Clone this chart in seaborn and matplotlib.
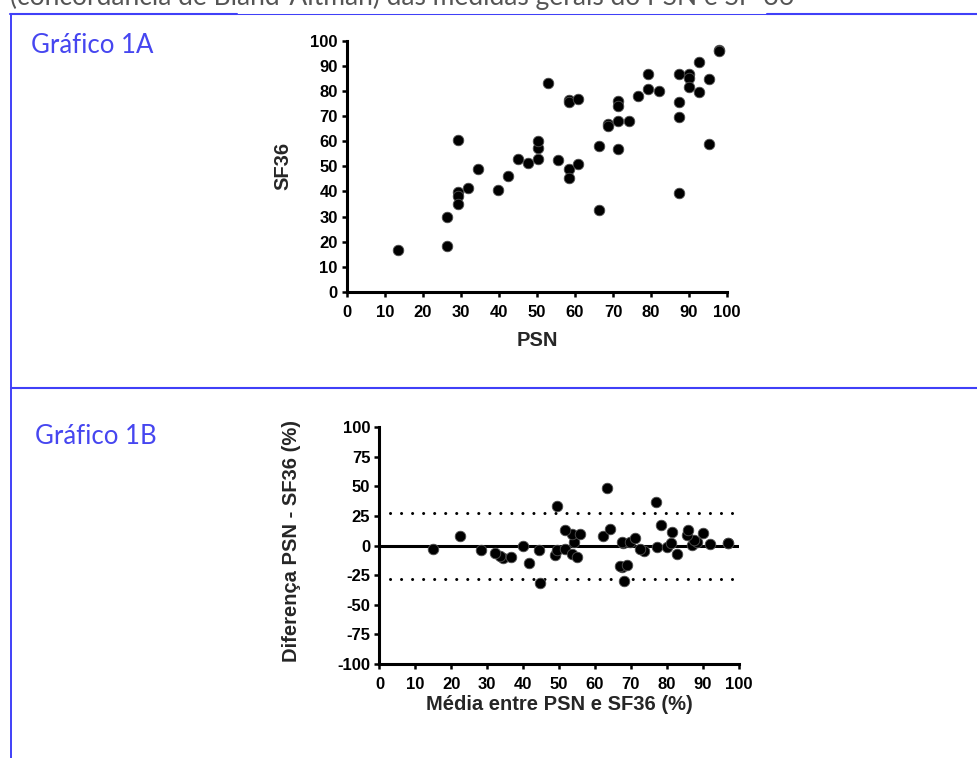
import matplotlib
matplotlib.use('Agg')
import matplotlib.pyplot as plt
import pandas as pd
import seaborn as sns
from matplotlib.lines import Line2D

# ---------------- data ----------------
psn = [13.4, 26.4, 26.4, 29.1, 29.1, 29.1, 29.1, 31.8, 34.4, 39.8,
       42.4, 45.0, 47.6, 50.3, 50.3, 50.3, 53.0, 55.6, 58.3, 58.3,
       58.3, 58.3, 60.8, 60.8, 66.2, 66.2, 68.8, 68.8, 71.4, 71.4,
       71.4, 71.4, 74.1, 76.7, 79.3, 79.3, 82.1, 87.4, 87.4, 87.4,
       87.4, 90.0, 90.0, 90.0, 92.6, 92.6, 95.3, 95.3, 98.0, 98.0]
sf36 = [16.6, 18.3, 29.9, 60.4, 39.6, 38.2, 35.2, 41.4, 49.0, 40.4,
        46.3, 52.9, 51.3, 52.9, 57.2, 60.0, 83.0, 52.7, 76.6, 75.6,
        49.0, 45.3, 76.9, 51.1, 58.2, 32.7, 66.7, 66.1, 76.1, 74.0,
        68.1, 57.1, 68.1, 78.1, 86.6, 80.6, 80.1, 86.9, 75.8, 69.7,
        39.2, 86.9, 85.3, 81.5, 91.6, 79.4, 84.7, 58.7, 96.3, 95.9]
bias = -0.2
loa_upper = 27.5
loa_lower = -28.1

x_ticks_a = list(range(0, 101, 10))
y_ticks_a = list(range(0, 101, 10))
x_ticks_b = list(range(0, 101, 10))
y_ticks_b = list(range(-100, 101, 25))

caption = "(concordância de Bland-Altman) das medidas gerais do PSN e SF-36"
title_a = "Gráfico 1A"
title_b = "Gráfico 1B"
xlabel_a, ylabel_a = "PSN", "SF36"
xlabel_b, ylabel_b = "Média entre PSN e SF36 (%)", "Diferença PSN - SF36 (%)"

# ---------------- style ----------------
sns.set_style('ticks')
plt.rcParams['font.family'] = ['Liberation Sans', 'DejaVu Sans']
plt.rcParams['font.weight'] = 'bold'
plt.rcParams['axes.labelweight'] = 'bold'
plt.rcParams['axes.unicode_minus'] = False

W, H = 978, 758
fig = plt.figure(figsize=(W / 100, H / 100), dpi=100)
fig.patch.set_facecolor('white')


def fx(px):
    return px / W


def fy(py):
    return 1 - py / H


df = pd.DataFrame({'PSN': psn, 'SF36': sf36})
df['media'] = (df['PSN'] + df['SF36']) / 2
df['dif'] = df['PSN'] - df['SF36']

ax1 = fig.add_axes([fx(347), fy(292), (727 - 347) / W, (292 - 40.7) / H])
ax2 = fig.add_axes([fx(379.5), fy(664), (738.5 - 379.5) / W, (664 - 427) / H])

marker_kw = dict(s=58, color='black', edgecolor='#505050', linewidth=0.6,
                 clip_on=False, zorder=4, legend=False)
sns.scatterplot(data=df, x='PSN', y='SF36', ax=ax1, **marker_kw)
sns.scatterplot(data=df, x='media', y='dif', ax=ax2, **marker_kw)

ax2.axhline(bias, color='black', lw=2.2, zorder=3)
for v in (loa_upper, loa_lower):
    ax2.axhline(v, color='black', lw=2.2, linestyle=(0, (0.01, 3.6)),
                dash_capstyle='round', zorder=3)

for ax, xt, yt in ((ax1, x_ticks_a, y_ticks_a), (ax2, x_ticks_b, y_ticks_b)):
    sns.despine(ax=ax)
    ax.set_facecolor('white')
    for s in ('left', 'bottom'):
        ax.spines[s].set_linewidth(2.2)
        ax.spines[s].set_color('black')
        ax.spines[s].set_capstyle('projecting')
    ax.set_xticks(xt)
    ax.set_yticks(yt)
    ax.set_xlim(xt[0], xt[-1])
    ax.set_ylim(yt[0], yt[-1])
    ax.tick_params(length=3.6, width=1.8, labelsize=12, color='black',
                   labelcolor='black')
    ax.tick_params(axis='x', pad=6)
    ax.tick_params(axis='y', pad=3)
    for lab in ax.get_xticklabels() + ax.get_yticklabels():
        lab.set_fontweight('bold')

ax1.set_xlabel(xlabel_a, fontsize=14.5, fontweight='bold')
ax1.set_ylabel(ylabel_a, fontsize=14.5, fontweight='bold')
ax2.set_xlabel(xlabel_b, fontsize=14.5, fontweight='bold')
ax2.set_ylabel(ylabel_b, fontsize=14.5, fontweight='bold')

ax1.xaxis.set_label_coords(0.5, (292 - 341) / 251.3)
ax1.xaxis.label.set_va('center')
ax1.yaxis.set_label_coords((283 - 347) / 380, 0.5)
ax1.yaxis.label.set_va('center')
ax2.xaxis.set_label_coords(0.5, (664 - 704) / 237)
ax2.xaxis.label.set_va('center')
ax2.yaxis.set_label_coords((292 - 379.5) / 359, 0.52)
ax2.yaxis.label.set_va('center')

# ---------------- page decorations ----------------
fig.text(fx(10), fy(5), caption, fontsize=19, family=['Lato', 'DejaVu Sans'],
         fontweight='normal', color='#555555', va='baseline', ha='left')
fig.text(fx(31), fy(53), title_a, fontsize=18.5, family=['Lato', 'DejaVu Sans'],
         fontweight='normal', color='#4646f0', va='baseline', ha='left')
fig.text(fx(35), fy(444), title_b, fontsize=18.5, family=['Lato', 'DejaVu Sans'],
         fontweight='normal', color='#4646f0', va='baseline', ha='left')

blue = '#4040f8'
frame_segments = [
    ((9.5, 237), (14, 14), 1.5),
    ((237, 767), (13.5, 13.5), 0.75),
    ((767, 978), (14, 14), 1.5),
    ((10.5, 10.5), (14, 758), 1.4),
    ((10.5, 978), (388, 388), 1.5),
]
for xs, ys, lw in frame_segments:
    fig.add_artist(Line2D([fx(xs[0]), fx(xs[1])], [fy(ys[0]), fy(ys[1])],
                          transform=fig.transFigure, color=blue, lw=lw))

fig.savefig('out.png', dpi=100, facecolor='white')
